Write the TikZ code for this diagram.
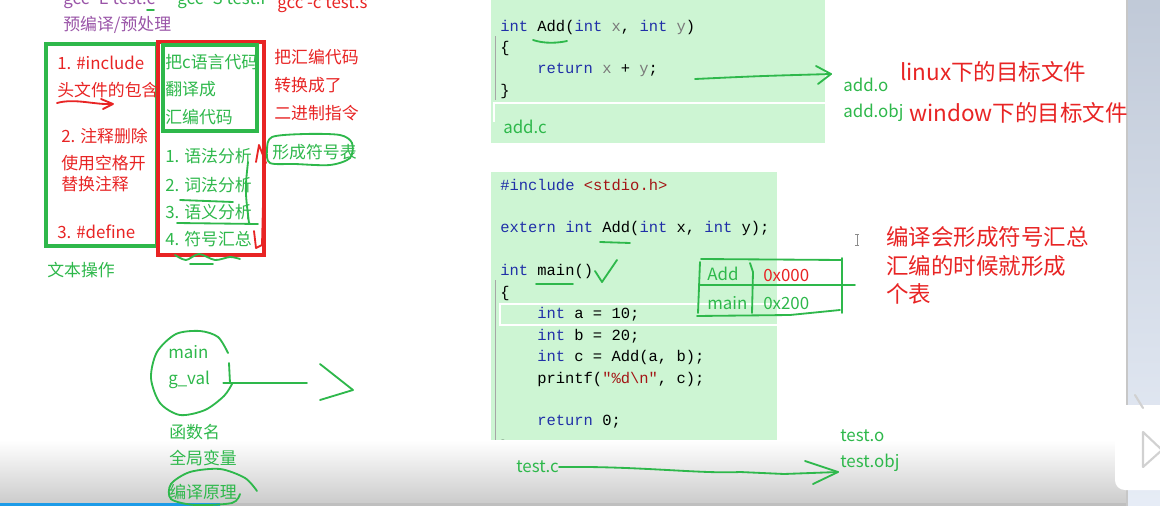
\documentclass[tikz,border=0pt]{standalone}
\usepackage{fontspec}
\setmainfont{Noto Sans CJK SC}
\setmonofont{Liberation Mono}
\usepackage{xcolor}
\usetikzlibrary{arrows.meta}
\definecolor{InkGreen}{HTML}{2EB84B}
\definecolor{InkRed}{HTML}{E82424}
\definecolor{InkPurple}{HTML}{9A55A8}
\definecolor{CodeBg}{HTML}{CDF5D3}
\definecolor{KwBlue}{HTML}{2030A8}
\definecolor{ArgGray}{HTML}{7A7A7A}
\definecolor{StrRed}{HTML}{A31515}
\definecolor{SideBlue}{HTML}{D6E0F0}
\definecolor{BarBlue}{HTML}{1C9BE8}

\newcommand{\kw}[1]{\textcolor{KwBlue}{#1}}
\newcommand{\argv}[1]{\textcolor{ArgGray}{#1}}
\newcommand{\strv}[1]{\textcolor{StrRed}{#1}}

\tikzset{
  lbl/.style={anchor=west,inner sep=0pt,font=\fontsize{12}{14}\selectfont},
  glbl/.style={lbl,text=InkGreen},
  rlbl/.style={lbl,text=InkRed},
  plbl/.style={lbl,text=InkPurple},
  biglbl/.style={anchor=west,inner sep=0pt,text=InkRed,font=\fontsize{16}{19}\selectfont},
  codeln/.style={anchor=west,inner sep=0pt,font=\ttfamily\fontsize{11}{13}\selectfont},
  pen/.style={InkGreen,line width=1.3pt,line cap=round,line join=round},
  redpen/.style={InkRed,line width=1.3pt,line cap=round,line join=round},
  framebox/.style={line width=2.2pt},
}

\begin{document}
\begin{tikzpicture}[x=0.025cm,y=-0.025cm]
  \useasboundingbox (0,0) rectangle (1160,506);
  \clip (0,0) rectangle (1160,506);
  \fill[white] (0,0) rectangle (1160,506);

  % code panels
  \fill[CodeBg] (491,0) rectangle (825,143);
  \fill[CodeBg] (491,172) rectangle (777,444);
  \draw[white,line width=1pt] (825,103) -- (494,103) -- (494,122);
  \draw[white,line width=1pt] (777,304) -- (500,304) -- (500,325) -- (777,325);
  \draw[black!35,line width=0.4pt] (495,36) -- (495,100);
  \draw[black!35,line width=0.4pt] (495,280) -- (495,444);

  \node[codeln] (addl1) at (500,27) {\kw{int} Add(\kw{int} \argv{x}, \kw{int} \argv{y})};
  \node[codeln] (addl2) at (500,49) {\{};
  \node[codeln] (addl3) at (537,70) {\kw{return} \argv{x} + \argv{y};};
  \node[codeln] (addl4) at (500,92) {\}};

  \node[codeln] (tstl1) at (500,185) {\kw{\#include} \strv{<stdio.h>}};
  \node[codeln] (tstl2) at (500,228) {\kw{extern} \kw{int} Add(\kw{int} x, \kw{int} y);};
  \node[codeln] (tstl3) at (500,271) {\kw{int} main()};
  \node[codeln] (tstl4) at (500,293) {\{};
  \node[codeln] (tstl5) at (537,314) {\kw{int} a = 10;};
  \node[codeln] (tstl6) at (537,336) {\kw{int} b = 20;};
  \node[codeln] (tstl7) at (537,357) {\kw{int} c = Add(a, b);};
  \node[codeln] (tstl8) at (537,379) {printf(\strv{"\%d\textbackslash n"}, c);};
  \node[codeln] (tstl9) at (537,422) {\kw{return} 0;};
  \node[codeln] (tstl10) at (500,447) {\}};

  % screen bottom and side bar
  \shade[top color=white,bottom color=black!20] (0,440) rectangle (1127,503);
  \fill[BarBlue] (0,503) rectangle (220,506);
  \fill[black!25] (220,503) rectangle (1127,506);
  \shade[top color=SideBlue!90!black,bottom color=SideBlue!60] (1127,0) rectangle (1160,506);
  \draw[black!22,line width=0.8pt] (1127,0) -- (1127,506);
  \fill[white,rounded corners=7pt] (1115,405) rectangle (1175,490);
  \draw[black!18,line width=1.5pt,line cap=round] (1135,395) -- (1143,408);
  \draw[black!18,line width=1.5pt,line join=round] (1143,432) -- (1143,467) -- (1162,450) -- cycle;

  % header commands
  \node[plbl,anchor=base west] (gccE) at (63,5) {gcc -E test.c};
  \node[glbl,anchor=base west] (gccS) at (177,5) {gcc -S test.i};
  \node[rlbl,anchor=base west] (gccC) at (277,8) {gcc -c test.s};
  \draw[pen] (147,10) -- (154,10);
  \node[plbl] (precomp) at (63,25) {预编译/预处理};

  % preprocessing
  \draw[InkGreen,framebox] (46,44) rectangle (157,246);
  \node[rlbl] (inc) at (57,63) {1. \#include};
  \node[rlbl] (hdr) at (57,90) {头文件的包含};
  \draw[redpen] (57,103) .. controls (75,98) and (95,105) .. (112,104);
  \draw[redpen] (101,99) -- (113,104) -- (103,109);
  \node[rlbl] (cmt1) at (61,136) {2. 注释删除};
  \node[rlbl] (cmt2) at (61,163) {使用空格开};
  \node[rlbl] (cmt3) at (61,184) {替换注释};
  \node[rlbl] (def) at (57,232) {3. \#define};
  \node[glbl] (textop) at (47,270) {文本操作};

  % compiling
  \draw[InkRed,framebox] (158,42) rectangle (264,255);
  \draw[InkGreen,framebox] (163,45) rectangle (257,131);
  \node[glbl] (tr1) at (165,62) {把c语言代码};
  \node[glbl] (tr2) at (165,89) {翻译成};
  \node[glbl] (tr3) at (165,117) {汇编代码};
  \node[glbl] (st1) at (165,156) {1. 语法分析};
  \node[glbl] (st2) at (165,185) {2. 词法分析};
  \node[glbl] (st3) at (165,212) {3. 语义分析};
  \node[glbl] (st4) at (165,239) {4. 符号汇总};
  \draw[pen] (180,200) -- (233,202);
  \draw[pen] (177,223) -- (258,224);
  \draw[pen] (248,162) .. controls (245,190) .. (249,223);
  \draw[pen] plot[smooth] coordinates {(175,255) (186,260) (199,254) (215,260) (230,257) (240,259)};
  \draw[pen] (190,264) -- (213,264);
  \draw[redpen] (254,231) -- (256,248) -- (262,245) -- (264,163);
  \draw[redpen] (256,162) -- (259,145) -- (266,163);

  % assembling
  \node[rlbl] (asm1) at (274,57) {把汇编代码};
  \node[rlbl] (asm2) at (274,85) {转换成了};
  \node[rlbl] (asm3) at (274,113) {二进制指令};
  \node[glbl] (symtab) at (272,152) {形成符号表};
  \draw[pen] plot[smooth cycle] coordinates {(272,137) (305,134) (340,135) (352,143) (350,158) (330,165) (295,164) (270,163) (267,150)};

  % symbols
  \node[glbl] (mainsym) at (168,352) {main};
  \node[glbl] (gval) at (168,380) {g\_val};
  \draw[pen] plot[smooth] coordinates {(228,353) (218,337) (200,331) (176,334) (157,352) (151,378) (160,403) (180,415) (205,410) (224,396) (232,384)};
  \draw[pen] (229,363) -- (230,383);
  \coordinate (gvalend) at (307,383);
  \coordinate (gvalhead) at (353,390);
  \draw[pen] ([shift={(13,3)}]gval.east) -- (gvalend);
  \draw[pen] (320,364) -- (gvalhead) -- (320,400);
  \node[glbl] (funcname) at (169,432) {函数名};
  \node[glbl] (globvar) at (169,458) {全局变量};
  \node[glbl] (theory) at (169,492) {编译原理};
  \draw[pen] plot[smooth] coordinates {(257,491) (245,478) (220,469) (190,472) (171,484) (171,499) (195,505) (232,503) (240,494)};

  % add.c -> object file
  \node[glbl] (addc) at (503,127) {add.c};
  \draw[pen] (533,40) .. controls (545,44) and (558,43) .. (567,41);
  \node[glbl] (addo) at (843,85) {add.o};
  \node[glbl] (addobj) at (843,113) {add.obj};
  \node[biglbl] (linuxobj) at (900,72) {linux下的目标文件};
  \node[biglbl] (winobj) at (909,113) {window下的目标文件};
  \coordinate (addtail) at (695,79);
  \coordinate (addtip) at (831,74);
  \draw[pen] (addtail) .. controls (760,76) .. (addtip);
  \draw[pen] (816,66) -- (addtip) -- (818,84);

  % test.c marks and symbol table
  \draw[pen] (600,242) -- (630,243);
  \draw[pen] (536,284) -- (573,284);
  \draw[pen] (595,271) -- (602,282) -- (617,260);
  \node[glbl] (symadd) at (707,274) {Add};
  \node[rlbl] (adradd) at (763,275) {0x000};
  \node[glbl] (symmain) at (707,303) {main};
  \node[glbl] (adrmain) at (763,303) {0x200};
  \draw[pen] (701,259) -- (842,260);
  \draw[pen] (700,262) -- (698,313);
  \draw[pen] (750,263) -- (753,272) -- (752,313);
  \draw[pen] (842,258) -- (842,313);
  \draw[pen] (700,285) -- (855,285);
  \draw[pen] (697,316) -- (790,315) -- (840,310);
  \draw[black!45,line width=0.6pt] (857,234) -- (857,245) (855,234) -- (859,234) (855,245) -- (859,245);
  \node[biglbl] (symnote1) at (886,237) {编译会形成符号汇总};
  \node[biglbl] (symnote2) at (886,266) {汇编的时候就形成};
  \node[biglbl] (symnote3) at (886,294) {个表};

  % test.c -> object file
  \node[glbl] (testc) at (516,467) {test.c};
  \node[glbl] (testo) at (840,436) {test.o};
  \node[glbl] (testobj) at (840,463) {test.obj};
  \coordinate (testtip) at (838,472);
  \draw[pen] (testc.east) .. controls (640,466) and (700,474) .. (740,472) -- (784,474) -- (testtip);
  \draw[pen] (805,461) -- (testtip) -- (813,484);
\end{tikzpicture}
\end{document}
